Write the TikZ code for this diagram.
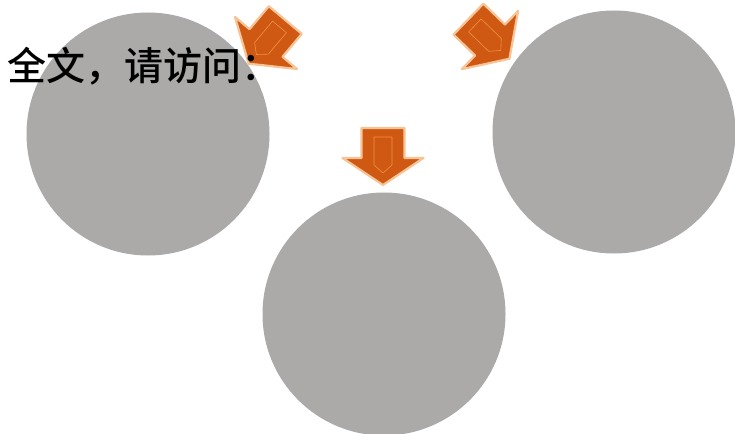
\documentclass[tikz,border=0pt]{standalone}
\usepackage{fontspec}
\newfontfamily\cjk{Noto Sans CJK SC Medium}
\definecolor{disc}{RGB}{172,169,169}
\definecolor{arrowfill}{RGB}{207,88,18}
\definecolor{arrowline}{RGB}{242,146,66}
\definecolor{arrowhalo}{RGB}{246,196,150}
\tikzset{
  blob/.style={circle, fill=disc, draw=none, minimum size=243pt, inner sep=0pt},
  orarrow/.pic={
    \path[draw=arrowhalo, line width=2.2pt, fill=arrowfill, line join=round]
      (-21.5,-30) -- (21.5,-30) -- (21.5,0) -- (40.5,0) -- (0,27) -- (-40.5,0) -- (-21.5,0) -- cycle;
    \draw[arrowline, line width=0.6pt, line join=round]
      (-9,-21) -- (9,-21) -- (9,7) -- (0,15) -- (-9,7) -- cycle;
  }
}
\begin{document}
\begin{tikzpicture}[x=1pt, y=-1pt]
\useasboundingbox[fill=white] (0,0) rectangle (735,433);
\node[blob] (L) at (148,134) {};
\node[blob] (R) at (614,132) {};
\node[blob] (B) at (384,314) {};
\pic[rotate=-40] at (266,43) {orarrow};
\pic[rotate=46] at (490,40) {orarrow};
\pic at (383,158) {orarrow};
\node[anchor=base west, inner sep=0pt, font=\cjk\fontsize{39}{41}\selectfont] (T) at (7,81) {全文，请访问：};
\end{tikzpicture}
\end{document}
